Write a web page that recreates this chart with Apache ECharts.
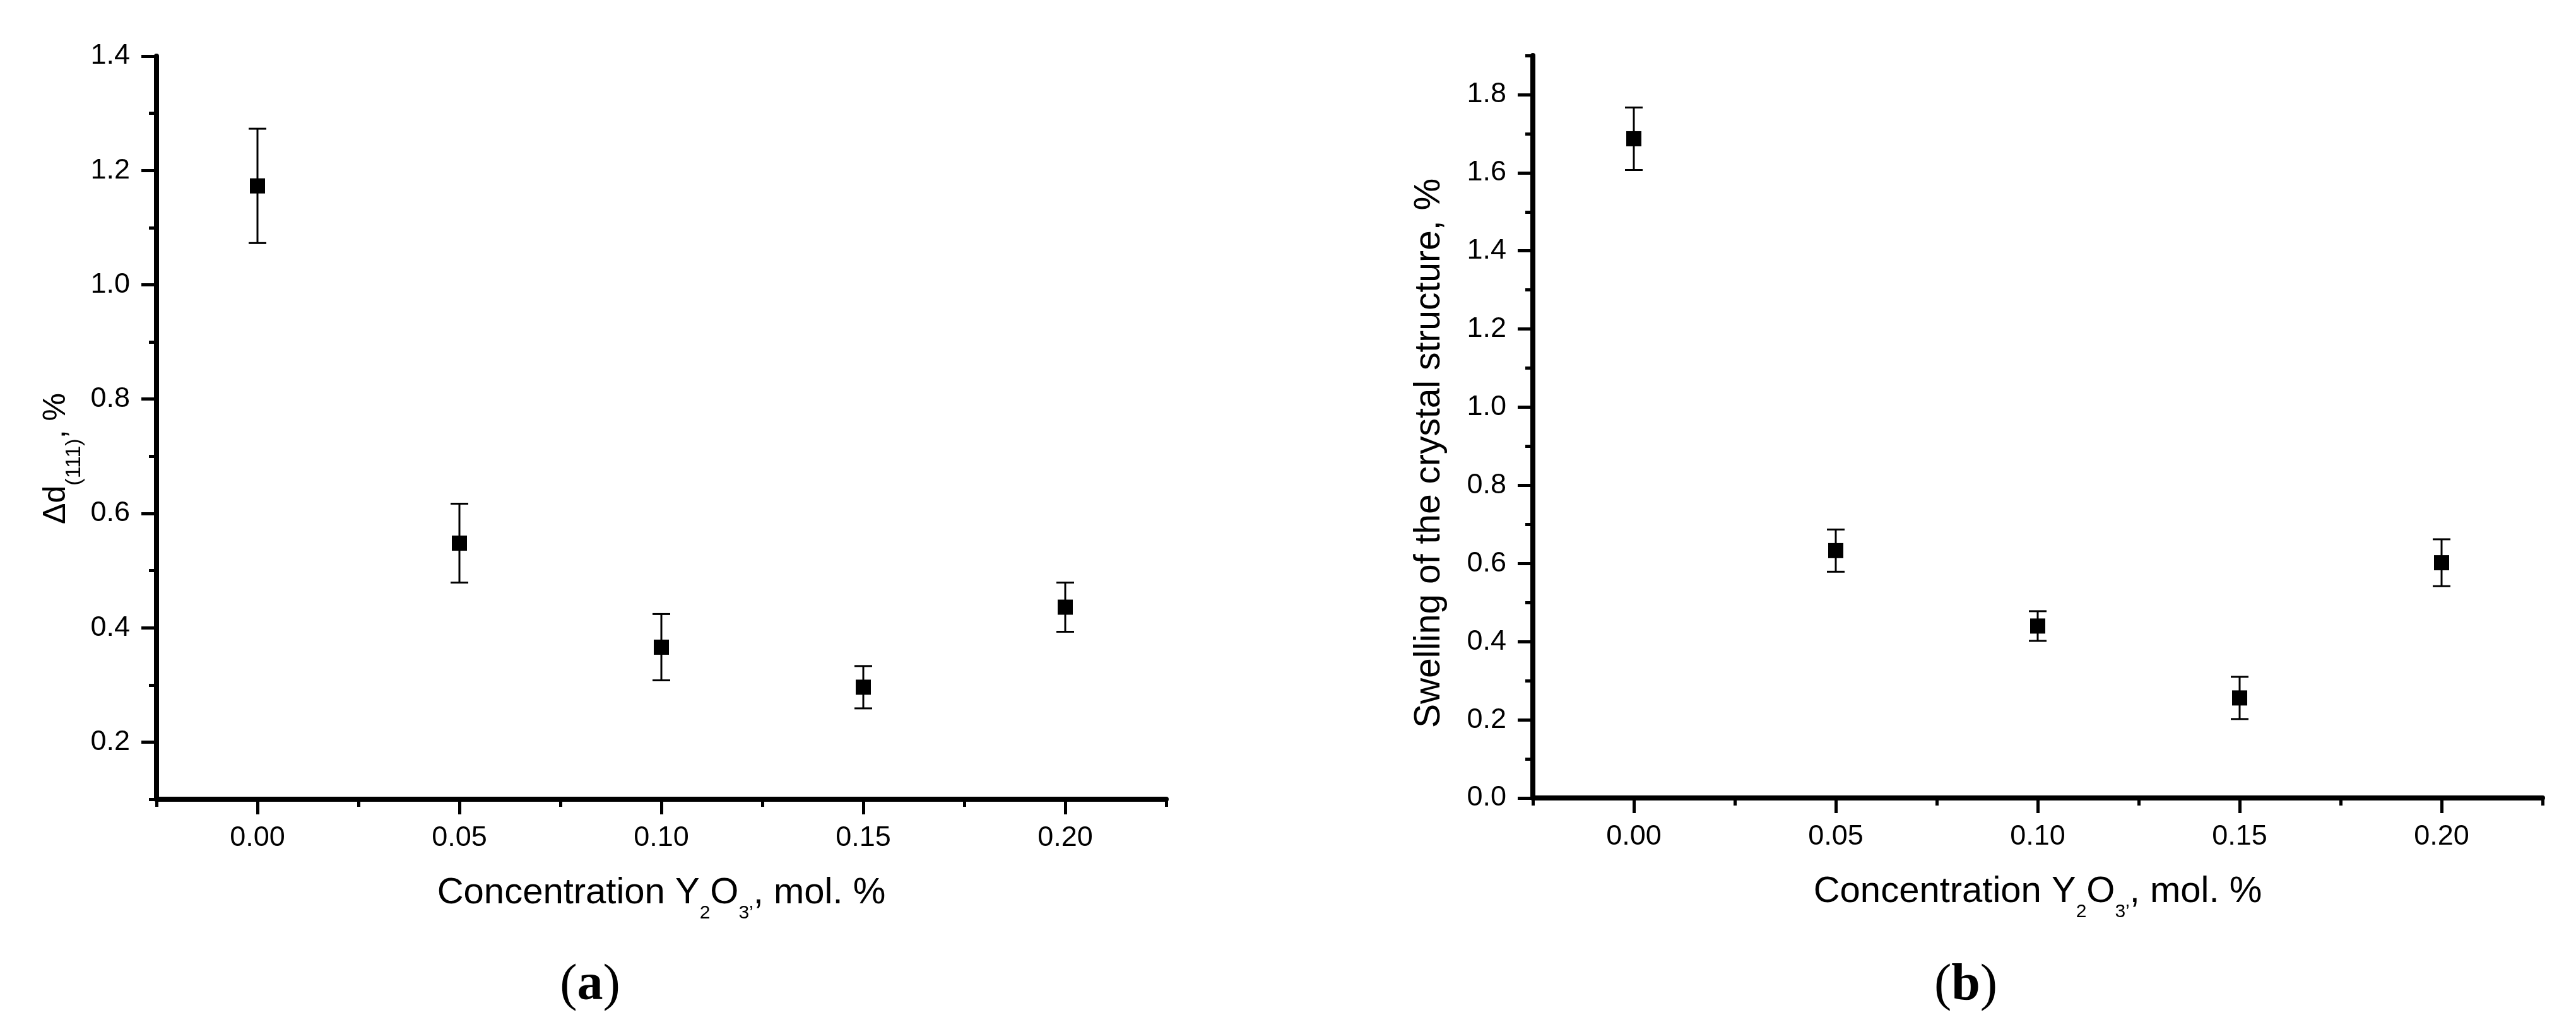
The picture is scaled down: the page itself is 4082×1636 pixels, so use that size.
<!DOCTYPE html>
<html>
<head>
<meta charset="utf-8">
<title>Y2O3 concentration</title>
<script src="https://cdn.jsdelivr.net/npm/echarts@6/dist/echarts.min.js"></script>
<style>
  html, body { margin: 0; padding: 0; background: #fff; }
  #chart { width: 4082px; height: 1636px; }
</style>
</head>
<body>
<div id="chart"></div>
<script>
// Y2O3 concentration, mol. %
const concentration = [0, 0.05, 0.10, 0.15, 0.20]
// (a) Δd(111), %
const deltaD = [1.173, 0.548, 0.366, 0.296, 0.436]
const deltaDErr = [0.100, 0.069, 0.058, 0.037, 0.043]
// (b) swelling of the crystal structure, %
const swelling = [1.687, 0.633, 0.440, 0.256, 0.602]
const swellingErr = [0.080, 0.054, 0.038, 0.054, 0.060]

// tick values
const xMajorTicks = [0, 0.05, 0.10, 0.15, 0.20]
const xMinorTicks = [-0.025, 0.025, 0.075, 0.125, 0.175, 0.225]
const yMajorTicksA = [0.2, 0.4, 0.6, 0.8, 1.0, 1.2, 1.4]
const yMinorTicksA = [0.1, 0.3, 0.5, 0.7, 0.9, 1.1, 1.3]
const yMajorTicksB = [0, 0.2, 0.4, 0.6, 0.8, 1.0, 1.2, 1.4, 1.6, 1.8]
const yMinorTicksB = [0.1, 0.3, 0.5, 0.7, 0.9, 1.1, 1.3, 1.5, 1.7, 1.9]

const SANS = 'Liberation Sans, Arial, sans-serif'
const SERIF = 'Liberation Serif, Times New Roman, serif'
const AXIS_W = 8
const TICK_W = 5

var chart = echarts.init(document.getElementById('chart'))

const gridA = { left: 248, top: 89, width: 1600, height: 1178 }
const gridB = { left: 2429, top: 88, width: 1600, height: 1177 }

function xTitle() {
  return {
    name: '{m|Concentration Y}{s|2}{m|O}{s|3’}{m|, mol. %}',
    nameLocation: 'middle',
    nameGap: 120,
    nameTextStyle: {
      color: '#000',
      rich: {
        m: { fontFamily: SANS, fontSize: 58, lineHeight: 58, verticalAlign: 'top', color: '#000' },
        s: { fontFamily: SANS, fontSize: 30, lineHeight: 30, verticalAlign: 'top', padding: [46, 0, 0, 0], color: '#000' }
      }
    }
  }
}

function majorX(gridIndex) {
  return Object.assign({
    gridIndex: gridIndex,
    type: 'value',
    min: -0.025,
    max: 0.225,
    axisLine: { onZero: false, lineStyle: { color: '#000', width: AXIS_W } },
    axisTick: { customValues: xMajorTicks, length: 24, lineStyle: { color: '#000', width: TICK_W } },
    axisLabel: {
      customValues: xMajorTicks,
      formatter: function (v) { return v.toFixed(2) },
      color: '#000', fontFamily: SANS, fontSize: 45, margin: 39
    },
    splitLine: { show: false }
  }, xTitle())
}

function minorX(gridIndex) {
  return {
    gridIndex: gridIndex,
    type: 'value',
    min: -0.025,
    max: 0.225,
    axisLine: { show: false, onZero: false },
    axisTick: { customValues: xMinorTicks, length: 12, lineStyle: { color: '#000', width: TICK_W } },
    axisLabel: { show: false },
    splitLine: { show: false }
  }
}

function majorY(gridIndex, min, max, ticks) {
  return {
    gridIndex: gridIndex,
    type: 'value',
    min: min,
    max: max,
    axisLine: { onZero: false, lineStyle: { color: '#000', width: AXIS_W } },
    axisTick: { customValues: ticks, length: 24, lineStyle: { color: '#000', width: TICK_W } },
    axisLabel: {
      customValues: ticks,
      formatter: function (v) { return v.toFixed(1) },
      color: '#000', fontFamily: SANS, fontSize: 45, margin: 42
    },
    splitLine: { show: false },
    nameLocation: 'middle'
  }
}

function minorY(gridIndex, min, max, ticks) {
  return {
    gridIndex: gridIndex,
    type: 'value',
    min: min,
    max: max,
    axisLine: { show: false, onZero: false },
    axisTick: { customValues: ticks, length: 12, lineStyle: { color: '#000', width: TICK_W } },
    axisLabel: { show: false },
    splitLine: { show: false }
  }
}

var yA = majorY(0, 0.1, 1.4, yMajorTicksA)
yA.name = '{m|Δd}{s|(111)}{m|, %}'
yA.nameGap = 134
yA.nameTextStyle = {
  color: '#000',
  padding: [0, 98, 0, 0],
  rich: {
    m: { fontFamily: SANS, fontSize: 50, lineHeight: 50, verticalAlign: 'top', color: '#000' },
    s: { fontFamily: SANS, fontSize: 34, lineHeight: 34, verticalAlign: 'top', padding: [37, 0, 0, 0], color: '#000' }
  }
}

var yB = majorY(2, 0, 1.9, yMajorTicksB)
yB.name = 'Swelling of the crystal structure, %'
yB.nameGap = 135
yB.nameTextStyle = {
  color: '#000', fontFamily: SANS, fontSize: 57, lineHeight: 57,
  padding: [0, 84, 0, 0]
}

function errorBars(xIdx, yIdx, values, errs) {
  return {
    type: 'custom',
    xAxisIndex: xIdx,
    yAxisIndex: yIdx,
    data: concentration.map(function (c, i) { return [c, values[i], errs[i]] }),
    renderItem: function (params, api) {
      var x = api.value(0), y = api.value(1), e = api.value(2)
      var top = api.coord([x, y + e])
      var bot = api.coord([x, y - e])
      var half = 14
      var style = { stroke: '#000', lineWidth: 3 }
      return {
        type: 'group',
        children: [
          { type: 'line', shape: { x1: top[0], y1: top[1], x2: bot[0], y2: bot[1] }, style: style },
          { type: 'line', shape: { x1: top[0] - half, y1: top[1], x2: top[0] + half, y2: top[1] }, style: style },
          { type: 'line', shape: { x1: bot[0] - half, y1: bot[1], x2: bot[0] + half, y2: bot[1] }, style: style }
        ]
      }
    },
    z: 2
  }
}

function points(xIdx, yIdx, values) {
  return {
    type: 'scatter',
    xAxisIndex: xIdx,
    yAxisIndex: yIdx,
    symbol: 'rect',
    symbolSize: 24,
    itemStyle: { color: '#000', opacity: 1 },
    data: concentration.map(function (c, i) { return [c, values[i]] }),
    z: 3
  }
}

function panelLabel(x, letter) {
  return {
    type: 'text',
    x: x,
    y: 1563,
    style: {
      text: '{p|(}{b|' + letter + '}{p|)}',
      align: 'center',
      verticalAlign: 'middle',
      rich: {
        p: { fontFamily: SERIF, fontSize: 82, fill: '#000' },
        b: { fontFamily: SERIF, fontSize: 82, fontWeight: 'bold', fill: '#000' }
      }
    }
  }
}

const option = {
  backgroundColor: '#fff',
  animation: false,
  grid: [
    Object.assign({ outerBoundsMode: 'none', containLabel: false }, gridA),
    Object.assign({ outerBoundsMode: 'none', containLabel: false }, gridA),
    Object.assign({ outerBoundsMode: 'none', containLabel: false }, gridB),
    Object.assign({ outerBoundsMode: 'none', containLabel: false }, gridB)
  ],
  xAxis: [majorX(0), minorX(1), majorX(2), minorX(3)],
  yAxis: [yA, minorY(1, 0.1, 1.4, yMinorTicksA), yB, minorY(3, 0, 1.9, yMinorTicksB)],
  series: [
    errorBars(0, 0, deltaD, deltaDErr),
    points(0, 0, deltaD),
    errorBars(2, 2, swelling, swellingErr),
    points(2, 2, swelling)
  ],
  graphic: [panelLabel(935, 'a'), panelLabel(3115, 'b')]
}

option && chart.setOption(option)
</script>
</body>
</html>
